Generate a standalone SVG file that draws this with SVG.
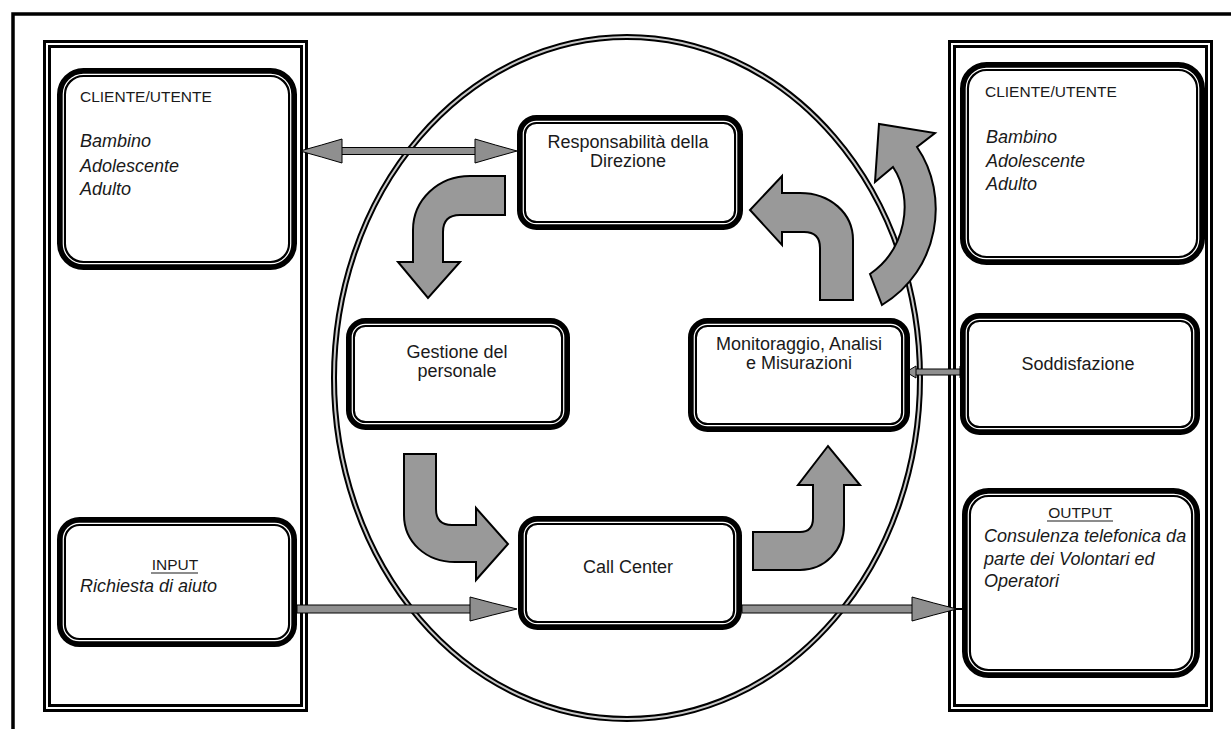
<svg xmlns="http://www.w3.org/2000/svg" width="1231" height="729" viewBox="0 0 1231 729">
<style>
.frame{fill:none;stroke:#000;stroke-width:3.5}
.pl{fill:none;stroke:#000;stroke-width:3}
.box{fill:#fff;stroke:#000;stroke-width:9}
.bl{fill:none;stroke:#fff;stroke-width:1.2}
.t{font-family:"Liberation Sans",Arial,sans-serif;font-size:18px;fill:#1a1a1a}
.c{text-anchor:middle}
.it{font-style:italic}
.sm{font-size:15.5px}
.blk{fill:#999;stroke:#000;stroke-width:2;stroke-linejoin:miter}
.bar{fill:#8f8f8f;stroke:#000;stroke-width:1}
.ul{stroke:#1a1a1a;stroke-width:1.2}
</style>
<rect width="1231" height="729" fill="#fff"/>
<rect class="frame" x="13" y="14" width="1300" height="800"/>
<g id="left-panel">
<rect class="pl" x="44.5" y="41.5" width="262" height="669"/>
<rect class="pl" x="49.5" y="46.5" width="252" height="659"/>
</g>
<g id="right-panel">
<rect class="pl" x="949.5" y="41.5" width="262" height="669"/>
<rect class="pl" x="954.5" y="46.5" width="252" height="659"/>
</g>
<g id="process-ellipse">
<ellipse cx="627" cy="378" rx="293" ry="341" fill="none" stroke="#000" stroke-width="6"/>
<ellipse cx="627" cy="378" rx="293" ry="341" fill="none" stroke="#c8c8c8" stroke-width="2"/>
</g>
<g id="connectors">
<path class="blk" d="M505,176 L470,176 C438,176 413,200 413,230 L413,262 L398,262 L428,298 L460,262 L443,262 L443,232 Q443,215 460,215 L505,215 Z"/>
<path class="blk" d="M820,300 L820,248 Q820,232 804,232 L782,232 L782,245 L750,210 L782,176 L782,193 L800,193 C830,193 853,213 853,240 L853,300 Z"/>
<path class="blk" d="M404,454 L436,454 L436,509 Q436,525 452,525 L476,525 L476,508 L508,544 L476,580 L476,562 L455,562 C426,562 404,542 404,515 Z"/>
<path class="blk" d="M753,532 L800,532 Q813,532 813,518 L813,485 L798,485 L828,446 L860,485 L844,485 L844,525 C844,550 825,570 800,570 L753,570 Z"/>
<path class="blk" d="M870,274 C905,250 915,200 893,167 L875,182 L879,124 L935,133 L917,147 C950,195 940,270 882,305 Z"/>
<rect class="bar" x="338" y="147.5" width="140" height="7"/>
<path class="bar" d="M300,151 Q322,145 342,139 L342,163 Q322,157 300,151 Z"/>
<path class="bar" d="M517,151 Q495,145 475,139 L475,163 Q495,157 517,151 Z"/>
<rect class="bar" x="297" y="605" width="176" height="8"/>
<path class="bar" d="M517,609 Q492,603 470,597 L470,621 Q492,615 517,609 Z"/>
<rect class="bar" x="742" y="605" width="173" height="8"/>
<line x1="950" y1="609" x2="972" y2="609" stroke="#000" stroke-width="2"/>
<path class="bar" d="M957,609 Q933,603 912,597 L912,621 Q933,615 957,609 Z"/>
<rect class="bar" x="914" y="369" width="48" height="6"/>
<path class="bar" d="M906,372 L916,366 L916,378 Z"/>
<path class="bar" d="M970,372 L960,366 L960,378 Z"/>
</g>
<g id="cliente-left">
<rect class="box" x="61.5" y="72.5" width="231" height="193" rx="22"/>
<rect class="bl" x="63.3" y="74.3" width="227.4" height="189.4" rx="20"/>
<text class="t sm" x="80" y="102">CLIENTE/UTENTE</text>
<text class="t it" x="80" y="147">Bambino</text>
<text class="t it" x="80" y="172">Adolescente</text>
<text class="t it" x="80" y="195">Adulto</text>
</g>
<g id="input">
<rect class="box" x="61.5" y="521.5" width="231" height="121" rx="18"/>
<rect class="bl" x="63.3" y="523.3" width="227.4" height="117.4" rx="16"/>
<text class="t sm c" x="175" y="570">INPUT</text>
<line class="ul" x1="151" y1="573" x2="198" y2="573"/>
<text class="t it" x="80" y="592">Richiesta di aiuto</text>
</g>
<g id="responsabilita">
<rect class="box" x="521.5" y="119.5" width="217" height="106" rx="15"/>
<rect class="bl" x="523.3" y="121.3" width="213.4" height="102.4" rx="13"/>
<text class="t c" x="628" y="148">Responsabilità della</text>
<text class="t c" x="628" y="167">Direzione</text>
</g>
<g id="gestione">
<rect class="box" x="350.5" y="322.5" width="215" height="103" rx="15"/>
<rect class="bl" x="352.3" y="324.3" width="211.4" height="99.4" rx="13"/>
<text class="t c" x="457" y="358">Gestione del</text>
<text class="t c" x="457" y="377">personale</text>
</g>
<g id="monitoraggio">
<rect class="box" x="692.5" y="322.5" width="213" height="105" rx="15"/>
<rect class="bl" x="694.3" y="324.3" width="209.4" height="101.4" rx="13"/>
<text class="t c" x="799" y="350">Monitoraggio, Analisi</text>
<text class="t c" x="799" y="369">e Misurazioni</text>
</g>
<g id="call-center">
<rect class="box" x="522.5" y="520.5" width="215" height="105" rx="15"/>
<rect class="bl" x="524.3" y="522.3" width="211.4" height="101.4" rx="13"/>
<text class="t c" x="628" y="573">Call Center</text>
</g>
<g id="cliente-right">
<rect class="box" x="964.5" y="66.5" width="236" height="194" rx="22"/>
<rect class="bl" x="966.3" y="68.3" width="232.4" height="190.4" rx="20"/>
<text class="t sm" x="985" y="97">CLIENTE/UTENTE</text>
<text class="t it" x="986" y="143">Bambino</text>
<text class="t it" x="986" y="167">Adolescente</text>
<text class="t it" x="986" y="190">Adulto</text>
</g>
<g id="soddisfazione">
<rect class="box" x="964.5" y="317.5" width="231" height="113" rx="15"/>
<rect class="bl" x="966.3" y="319.3" width="227.4" height="109.4" rx="13"/>
<text class="t c" x="1078" y="370">Soddisfazione</text>
</g>
<g id="output">
<rect class="box" x="966.5" y="492.5" width="229" height="181" rx="22"/>
<rect class="bl" x="968.3" y="494.3" width="225.4" height="177.4" rx="20"/>
<text class="t sm c" x="1080" y="518">OUTPUT</text>
<line class="ul" x1="1047" y1="521" x2="1113" y2="521"/>
<text class="t it" x="984" y="542" font-size="17">Consulenza telefonica da</text>
<text class="t it" x="984" y="565" font-size="17">parte dei Volontari ed</text>
<text class="t it" x="984" y="587" font-size="17">Operatori</text>
</g>
</svg>
